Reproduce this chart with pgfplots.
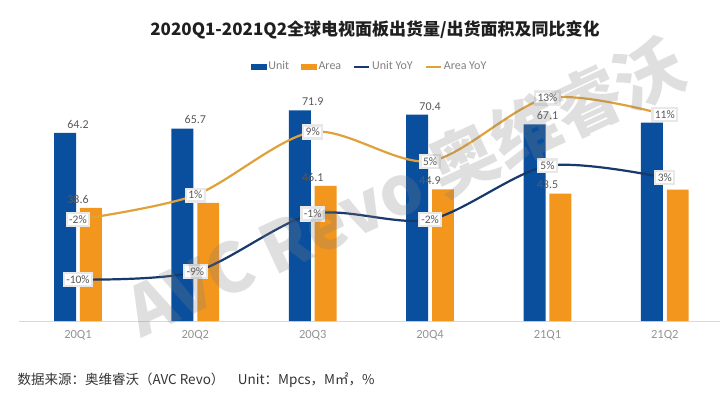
\documentclass[border=0pt]{standalone}
\usepackage{pgfplots}
\pgfplotsset{compat=1.18}
\usepackage{fontspec}
\setmainfont{Carlito}
\newfontfamily\cjk{Noto Sans CJK SC}
\definecolor{barblue}{HTML}{0A4F9E}
\definecolor{barorange}{HTML}{F2961E}
\definecolor{unitline}{HTML}{17396B}
\definecolor{arealine}{HTML}{DFA23A}
\definecolor{lblgray}{HTML}{595959}
\begin{document}
\begin{tikzpicture}
\useasboundingbox (0,0) rectangle (720pt,392pt);
\node[font=\cjk\bfseries\fontsize{17}{20}\selectfont, text=black!88] at (375pt,362pt) {2020Q1-2021Q2全球电视面板出货量/出货面积及同比变化};
\begin{axis}[
  at={(19.3pt,71pt)}, anchor=south west, scale only axis,
  width=700.7pt, height=234.4pt,
  xmin=-0.5, xmax=5.47, ymin=0, ymax=80,
  axis x line*=bottom, axis y line=none,
  x axis line style={draw=gray!30, line width=0.8pt, -},
  xtick={0,1,2,3,4,5},
  xticklabels={20Q1,20Q2,20Q3,20Q4,21Q1,21Q2},
  major tick length=0pt,
  xticklabel style={font=\fontsize{12.5}{14}\selectfont, text=gray!85, yshift=-6pt},
  ytick=\empty,
  clip=false,
  /pgf/number format/assume math mode=true,
  /pgf/number format/fixed, /pgf/number format/precision=1, /pgf/number format/fixed zerofill,
  nodes near coords,
  every node near coord/.append style={font=\fontsize{12}{14}\selectfont, text=lblgray, yshift=1pt},
]
\addplot[ybar, bar width=0.187, bar shift=-0.11, fill=barblue, draw=none]
  coordinates {(0,64.2) (1,65.7) (2,71.9) (3,70.4) (4,67.1) (5,67.7)};
\addplot[ybar, bar width=0.187, bar shift=0.11, fill=barorange, draw=none]
  coordinates {(0,38.6) (1,40.3) (2,46.1) (3,44.9) (4,43.5) (5,44.8)};
\end{axis}
\begin{axis}[
  at={(19.3pt,71pt)}, anchor=south west, scale only axis,
  width=700.7pt, height=234.4pt,
  xmin=-0.5, xmax=5.47, ymin=-14.85, ymax=14.85,
  hide axis, clip=false,
  /pgf/number format/assume math mode=true,
  /pgf/number format/fixed, /pgf/number format/precision=0,
  nodes near coords={\pgfmathprintnumber{\pgfplotspointmeta}\%},
  every node near coord/.append style={anchor=center, fill=white, draw=gray!18, inner sep=2.5pt,
    font=\fontsize{11.5}{13}\selectfont, text=lblgray},
  legend style={at={(0.5,1)}, anchor=center, yshift=20pt, draw=none, fill=none,
    font=\fontsize{12}{14}\selectfont, text=gray,
    /tikz/every even column/.append style={column sep=10pt}},
  legend columns=4,
]
\addlegendimage{legend image code/.code={\fill[barblue] (0pt,-2.5pt) rectangle (15pt,2.5pt);}}
\addlegendimage{legend image code/.code={\fill[barorange] (0pt,-2.5pt) rectangle (15pt,2.5pt);}}
\addplot[smooth, color=unitline, line width=2.2pt,
  legend image code/.code={\draw[unitline, line width=2pt] (0pt,0pt) -- (15pt,0pt);}]
  coordinates {(0,-9.6) (1,-8.6) (2,-1.3) (3,-2.0) (4,4.8) (5,3.3)};
\addplot[smooth, color=arealine, line width=2.2pt,
  legend image code/.code={\draw[arealine, line width=2pt] (0pt,0pt) -- (15pt,0pt);}]
  coordinates {(0,-2.0) (1,1.1) (2,9.1) (3,5.4) (4,13.4) (5,11.3)};
\legend{Unit,Area,Unit YoY,Area YoY}
\end{axis}
\node[anchor=west, font=\cjk\fontsize{13.5}{15}\selectfont, text=black!80] at (14pt,12pt)
  {数据来源：奥维睿沃（AVC Revo）\quad Unit：Mpcs，M㎡，\%};
\node[rotate=25, opacity=0.25, text=gray, font=\cjk\bfseries\fontsize{68}{70}\selectfont] at (405pt,205pt) {AVC Revo 奥维睿沃};
\end{tikzpicture}
\end{document}
